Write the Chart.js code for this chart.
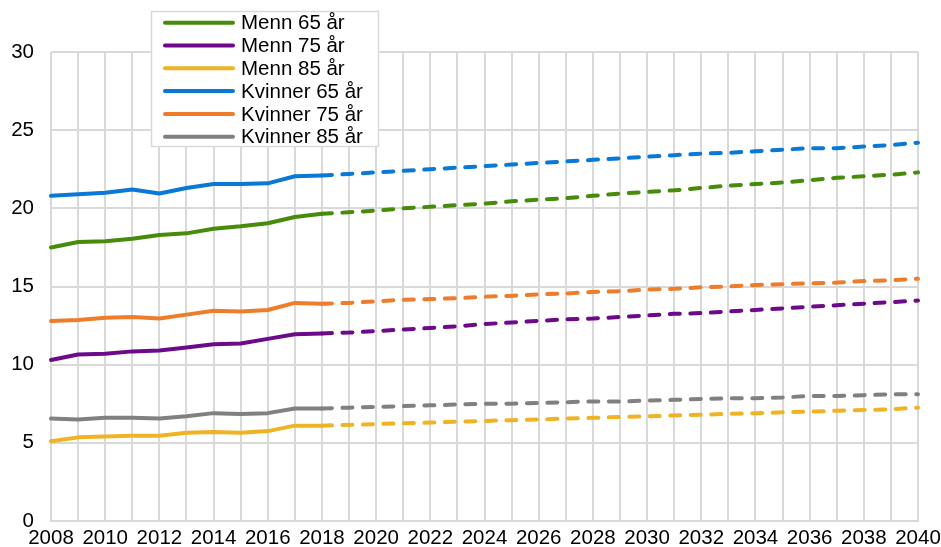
<!DOCTYPE html>
<html>
<head>
<meta charset="utf-8">
<script src="https://cdn.jsdelivr.net/npm/chart.js@4"></script>
<style>
  html, body { margin: 0; padding: 0; background: #fff; }
  #wrap { width: 941px; height: 547px; }
</style>
</head>
<body>
<div id="wrap"><canvas id="chart" width="941" height="547"></canvas></div>
<script>
const years = ["2008", "2009", "2010", "2011", "2012", "2013", "2014", "2015", "2016", "2017", "2018",
  "2019", "2020", "2021", "2022", "2023", "2024", "2025", "2026", "2027", "2028", "2029",
  "2030", "2031", "2032", "2033", "2034", "2035", "2036", "2037", "2038", "2039", "2040"];
const lastObserved = "2018";

const menn65 = [17.5, 17.85, 17.9, 18.05, 18.3, 18.4, 18.7, 18.85, 19.05, 19.45, 19.65,
  19.75, 19.85, 20.0, 20.1, 20.2, 20.3, 20.45, 20.55, 20.65, 20.8, 20.95,
  21.05, 21.15, 21.3, 21.45, 21.55, 21.65, 21.8, 21.95, 22.05, 22.15, 22.3];
const menn75 = [10.3, 10.65, 10.7, 10.85, 10.9, 11.1, 11.3, 11.35, 11.65, 11.95, 12.0,
  12.05, 12.15, 12.25, 12.35, 12.45, 12.6, 12.7, 12.8, 12.9, 12.95, 13.05,
  13.15, 13.25, 13.3, 13.4, 13.5, 13.6, 13.7, 13.8, 13.9, 14.0, 14.1];
const menn85 = [5.1, 5.35, 5.4, 5.45, 5.45, 5.65, 5.7, 5.65, 5.75, 6.1, 6.1,
  6.15, 6.2, 6.25, 6.3, 6.35, 6.4, 6.45, 6.5, 6.55, 6.6, 6.65,
  6.7, 6.75, 6.8, 6.85, 6.9, 6.95, 7.0, 7.05, 7.1, 7.15, 7.25];
const kvinner65 = [20.8, 20.9, 21.0, 21.2, 20.95, 21.3, 21.55, 21.55, 21.6, 22.05, 22.1,
  22.2, 22.3, 22.4, 22.5, 22.6, 22.7, 22.8, 22.9, 23.0, 23.1, 23.2,
  23.3, 23.4, 23.5, 23.55, 23.65, 23.75, 23.85, 23.85, 23.95, 24.05, 24.2];
const kvinner75 = [12.8, 12.85, 13.0, 13.05, 12.95, 13.2, 13.45, 13.4, 13.5, 13.95, 13.9,
  13.95, 14.05, 14.15, 14.2, 14.25, 14.35, 14.4, 14.5, 14.55, 14.65, 14.7,
  14.8, 14.85, 14.95, 15.0, 15.1, 15.15, 15.2, 15.25, 15.35, 15.4, 15.5];
const kvinner85 = [6.55, 6.5, 6.6, 6.6, 6.55, 6.7, 6.9, 6.85, 6.9, 7.2, 7.2,
  7.25, 7.3, 7.35, 7.4, 7.45, 7.5, 7.5, 7.55, 7.6, 7.65, 7.65,
  7.7, 7.75, 7.8, 7.85, 7.85, 7.9, 8.0, 8.0, 8.05, 8.1, 8.1];

const seriesLabels = ["Menn 65 år", "Menn 75 år", "Menn 85 år", "Kvinner 65 år", "Kvinner 75 år", "Kvinner 85 år"];
const seriesValues = [menn65, menn75, menn85, kvinner65, kvinner75, kvinner85];
const seriesColors = ["#478b0b", "#6c0a8a", "#efb323", "#0a78d6", "#ee7d2b", "#808080"];

const font = "Liberation Sans, Arial, sans-serif";
const splitIndex = years.indexOf(lastObserved);

const datasets = seriesLabels.map((label, i) => ({
  label,
  data: seriesValues[i],
  borderColor: seriesColors[i],
  backgroundColor: seriesColors[i],
  borderWidth: 4,
  borderCapStyle: "round",
  borderJoinStyle: "round",
  pointRadius: 0,
  tension: 0,
  segment: {
    borderDash: ctx => ctx.p0DataIndex >= splitIndex ? [10, 10.5] : undefined
  }
}));

// legend drawn as a framed box over the top-left of the plot
const boxLegend = {
  id: "boxLegend",
  afterDraw(chart) {
    const ctx = chart.ctx;
    const x = 151.5, y = 11.5, w = 227, h = 135, rowH = 22.8;
    ctx.save();
    ctx.fillStyle = "#fff";
    ctx.fillRect(x, y, w, h);
    ctx.strokeStyle = "#d9d9d9";
    ctx.lineWidth = 1.5;
    ctx.strokeRect(x, y, w, h);
    ctx.font = "20.5px " + font;
    ctx.textBaseline = "middle";
    chart.data.datasets.forEach((ds, i) => {
      const cy = 22.7 + i * rowH;
      ctx.strokeStyle = ds.borderColor;
      ctx.lineWidth = 4;
      ctx.lineCap = "round";
      ctx.beginPath();
      ctx.moveTo(165, cy);
      ctx.lineTo(233, cy);
      ctx.stroke();
      ctx.fillStyle = "#000";
      ctx.fillText(ds.label, 241, cy + 1);
    });
    ctx.restore();
  }
};

// fixed axis sizes so the plot sits where the original's does
function noPad(s) {
  s.paddingLeft = 0;
  s.paddingRight = 0;
  s.paddingTop = 0;
  s.paddingBottom = 0;
}

new Chart(document.getElementById("chart"), {
  type: "line",
  data: { labels: years, datasets },
  options: {
    responsive: false,
    animation: false,
    layout: { padding: { left: 0, right: 23, top: 52, bottom: 0 } },
    plugins: {
      legend: { display: false },
      tooltip: { enabled: false }
    },
    scales: {
      x: {
        offset: false,
        grid: { color: "#d9d9d9", lineWidth: 2, drawTicks: false },
        border: { color: "#d9d9d9", width: 2 },
        ticks: {
          autoSkip: false,
          maxRotation: 0,
          padding: 5,
          color: "#000",
          font: { family: font, size: 20.5 },
          callback: (v, i) => i % 2 === 0 ? years[i] : ""
        },
        afterFit: s => { s.height = 26; noPad(s); }
      },
      y: {
        min: 0,
        max: 30,
        grid: { color: "#d9d9d9", lineWidth: 2, drawTicks: false },
        border: { display: false },
        ticks: {
          stepSize: 5,
          padding: 17,
          color: "#000",
          font: { family: font, size: 20.5 }
        },
        afterFit: s => { s.width = 51; noPad(s); }
      }
    }
  },
  plugins: [boxLegend]
});
</script>
</body>
</html>
